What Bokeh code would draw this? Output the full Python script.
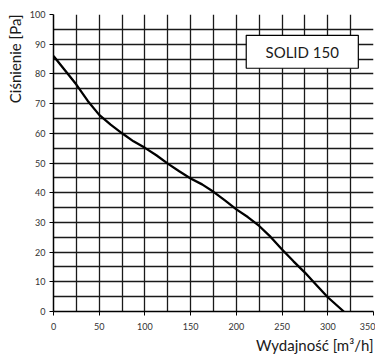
from bokeh.plotting import figure
from bokeh.models import Range1d, FixedTicker, Label, BoxAnnotation, Title
from bokeh.embed import file_html
from bokeh.resources import INLINE

# data
flow = [0, 12.5, 25, 37.5, 50, 62.5, 75, 87.5, 100, 112.5, 125, 137.5, 150,
        162.5, 175, 187.5, 200, 212.5, 225, 237.5, 250, 262.5, 275, 287.5, 300, 317.5]
pressure = [86, 81.2, 76.4, 70.9, 66.2, 62.9, 60, 57.3, 55.1, 52.6, 49.8, 47.2, 44.8,
            42.8, 40.3, 37.4, 34.4, 31.8, 28.8, 25.1, 20.9, 16.9, 13.1, 8.9, 4.8, 0]
x_ticks = [0, 50, 100, 150, 200, 250, 300, 350]
y_ticks = [0, 10, 20, 30, 40, 50, 60, 70, 80, 90, 100]
x_grid = list(range(0, 351, 25))
y_grid = list(range(0, 101, 5))
model_name = "SOLID 150"
x_title = "Wydajność [m³/h]"
y_title = "Ciśnienie [Pa]"

FONT = "Lato"

p = figure(width=375, height=354, output_backend="svg", toolbar_location=None,
           x_range=Range1d(0, 350), y_range=Range1d(0, 100),
           min_border_left=52, min_border_top=14, min_border_right=2, min_border_bottom=43)
p.outline_line_color = None
p.background_fill_color = "white"
p.border_fill_color = "white"

for ax in (p.xaxis, p.yaxis):
    ax.major_tick_in = 0
    ax.major_tick_out = 4
    ax.minor_tick_in = 0
    ax.minor_tick_out = 0
    ax.axis_line_color = "black"
    ax.axis_line_width = 1.5
    ax.major_tick_line_color = "black"
    ax.major_label_text_font = FONT
    ax.major_label_text_font_size = "9px"
    ax.major_label_text_color = "#333333"
    ax.major_label_standoff = 4

p.xaxis.ticker = FixedTicker(ticks=x_ticks)
p.yaxis.ticker = FixedTicker(ticks=y_ticks)
p.xaxis.major_label_standoff = 7

p.xgrid.ticker = FixedTicker(ticks=x_grid)
p.ygrid.ticker = FixedTicker(ticks=y_grid)
for g in (p.xgrid, p.ygrid):
    g.grid_line_color = "#1a1a1a"
    g.grid_line_width = 1.3
    g.grid_line_alpha = 1.0

p.line(flow, pressure, line_color="black", line_width=2.3, line_join="round")

box = BoxAnnotation(left=210.8, right=333.4, top=93, bottom=81.9,
                    fill_color="white", fill_alpha=1.0,
                    line_color="black", line_width=1.2, line_alpha=1.0)
p.add_layout(box)
p.add_layout(Label(x=272, y=87.5, text=model_name, text_align="center",
                   text_baseline="middle", text_font=FONT, text_font_size="15px",
                   text_color="#1a1a1a"))

xt = Title(text=x_title, align="right", text_font=FONT, text_font_size="15px",
           text_font_style="normal", text_color="#1a1a1a", standoff=2, offset=0)
p.add_layout(xt, "below")
yt = Title(text=y_title, align="right", text_font=FONT, text_font_size="15px",
           text_font_style="normal", text_color="#1a1a1a", standoff=6, offset=0)
p.add_layout(yt, "left")

open("out.html", "w").write(file_html(p, INLINE))
